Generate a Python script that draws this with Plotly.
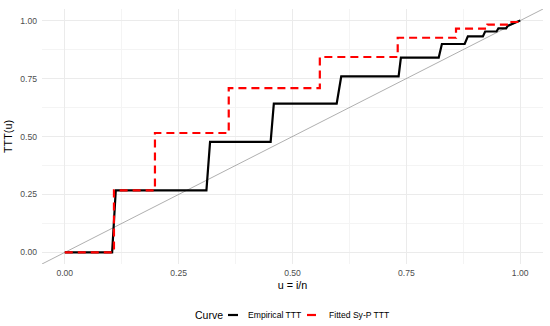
import plotly.graph_objects as go

# ---- data ----
emp_u = [0.0, 0.104, 0.112, 0.311, 0.319, 0.452, 0.459, 0.597, 0.607, 0.733, 0.738,
         0.821, 0.828, 0.878, 0.885, 0.918, 0.923, 0.948, 0.952, 0.969, 0.973, 1.0]
emp_ttt = [0.0, 0.0, 0.268, 0.268, 0.477, 0.477, 0.642, 0.642, 0.759, 0.759, 0.840,
           0.840, 0.899, 0.899, 0.932, 0.932, 0.953, 0.953, 0.966, 0.966, 0.978, 1.0]

fit_u = [0.0, 0.108, 0.198, 0.360, 0.560, 0.731, 0.859, 0.928, 0.975, 1.0]
fit_ttt = [0.0, 0.268, 0.515, 0.709, 0.843, 0.926, 0.965, 0.983, 0.994, 1.0]

diag = [-0.05, 1.05]

tick_vals = [0.0, 0.25, 0.5, 0.75, 1.0]
tick_text = ["0.00", "0.25", "0.50", "0.75", "1.00"]

legend_title = "Curve"
legend_labels = ["Empirical TTT", "Fitted Sy-P TTT"]
legend_colors = ["black", "red"]

W, H = 550, 326
ML, MR, MT, MB = 42, 7, 9, 62
PW, PH = W - ML - MR, H - MT - MB

def px(x):
    return (x - ML) / PW

def py(y):
    return (H - MB - y) / PH

fig = go.Figure()

fig.add_trace(go.Scatter(x=diag, y=diag, mode="lines",
                         line=dict(color="#9a9a9a", width=0.8),
                         showlegend=False, hoverinfo="skip"))
fig.add_trace(go.Scatter(x=emp_u, y=emp_ttt, mode="lines", name=legend_labels[0],
                         line=dict(color="black", width=2.2),
                         showlegend=False))
fig.add_trace(go.Scatter(x=fit_u, y=fit_ttt, mode="lines", name=legend_labels[1],
                         line=dict(color="red", width=2.2, dash="8px,5px", shape="hv"),
                         showlegend=False))

font_fam = "Liberation Sans, Arial, sans-serif"

axis_common = dict(
    range=[-0.05, 1.05],
    tickvals=tick_vals, ticktext=tick_text,
    showgrid=True, gridcolor="#EBEBEB", gridwidth=1,
    zeroline=False, showline=False,
    ticks="", automargin=False,
    tickfont=dict(family=font_fam, size=8.6, color="#4D4D4D"),
    minor=dict(showgrid=True, gridcolor="#F4F4F4", gridwidth=1,
               tickvals=[-0.125 + 0.25 * k for k in range(6)]),
)

fig.update_layout(
    width=W, height=H,
    margin=dict(l=ML, r=MR, t=MT, b=MB),
    paper_bgcolor="white", plot_bgcolor="white",
    font=dict(family=font_fam),
    xaxis=dict(**axis_common, ticklabelstandoff=2,
               title=dict(text="u = i/n", font=dict(family=font_fam, size=10.8, color="black"),
                          standoff=4)),
    yaxis=dict(**axis_common, ticklabelstandoff=4,
               title=dict(text="TTT(u)", font=dict(family=font_fam, size=10.8, color="black"),
                          standoff=5)),
    showlegend=False,
)

# manual ggplot-style legend at bottom
ly = 315
fig.add_annotation(text=legend_title, x=px(193), y=py(ly), xref="paper", yref="paper",
                   xanchor="left", yanchor="middle", showarrow=False,
                   font=dict(family=font_fam, size=10.5, color="black"))
keys = [(228, 238, 246), (307, 316, 327)]
for (x0, x1, tx), lab, col in zip(keys, legend_labels, legend_colors):
    fig.add_shape(type="line", x0=px(x0), x1=px(x1), y0=py(ly), y1=py(ly),
                  xref="paper", yref="paper", line=dict(color=col, width=2.2))
    fig.add_annotation(text=lab, x=px(tx), y=py(ly), xref="paper", yref="paper",
                       xanchor="left", yanchor="middle", showarrow=False,
                       font=dict(family=font_fam, size=8.6, color="black"))

fig.write_html("out.html", config={"displayModeBar": False},
               post_script="document.body.style.margin='0';document.body.style.overflow='hidden';")
